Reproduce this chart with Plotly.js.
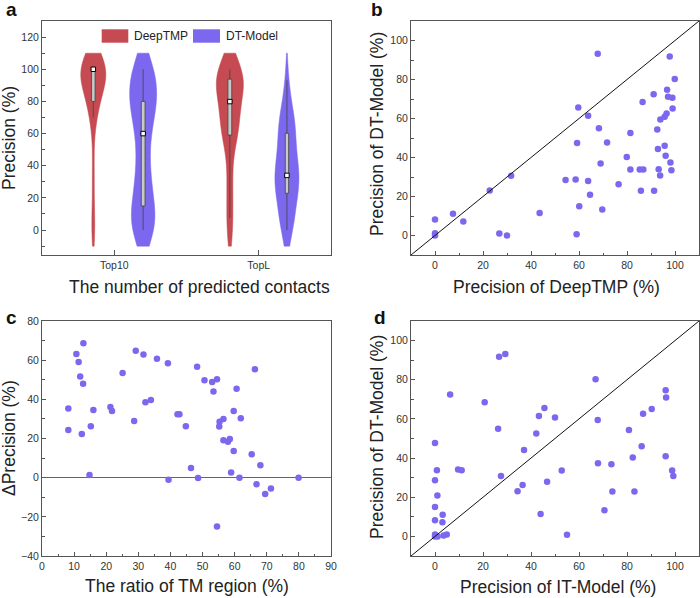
<!DOCTYPE html>
<html>
<head>
<meta charset="utf-8">
<script src="https://cdn.plot.ly/plotly-3.0.1.min.js"></script>
<style>html,body{margin:0;padding:0;background:#fff;}#chart{width:700px;height:598px;}</style>
</head>
<body>
<div id="chart"></div>
<script>
// ---- Panel a: violin data ----
var categories = ["Top10", "TopL"];
var deepTMPTop10 = [100,100,100,100,100,100,100,100,100,100,100,100,100,100,100,100,100,100,100,100,100,100,100,100,100,100,100,
  90,90,90,90,90,90,90, 80,80,80,80,80,80, 70,70,70,70, 45,35,25,10,0,0,0];
var dtModelTop10 = [0,0,0,0,0,0,0,0, 10,10,10,10,10, 20,20,20,20, 30,30,30, 40,40,40, 50,50, 60,60,60,
  70,70,70,70, 80,80,80,80,80,80,80, 90,90,90,90,90, 100,100,100,100,100,100,100];

// ---- Panel b: DeepTMP vs DT-Model (TopL precision) ----
var deepTMPTopL = [0,0,0,7.5,11.8,22.8,31.7,26.8,30,43.6,54.4,58.6,59.2,59.7,60.1,59,63.8,63.8,64.6,67.8,68.3,69,69.7,71.7,76.5,
  79.9,81.4,81.4,85.3,86.8,85.8,86.5,91.1,91.3,92.6,92.9,93.2,93.8,93.9,95.7,96.5,95.7,96.1,96.7,97.1,97.8,98.1,98.5,98.9,99,99.9];
var dtModelTopL = [8.2,1.2,0,11.1,7.2,23.1,30.6,1.0,0,11.5,28.4,28.7,47.4,65.6,15.0,0.7,61.4,27.9,20.9,93.2,55.0,36.9,13.3,47.7,26.3,
  40.3,52.6,33.8,33.8,33.8,22.9,68.4,72.5,22.9,54.4,44.3,34.0,30.8,59.5,60.9,62.6,46,40.9,74.7,71.1,91.8,37.4,33.5,70.6,65.1,80.3];

// ---- Panel c: TM ratio vs delta precision ----
var tmRatio = [8.2,8.2,10.7,11.4,11.9,12.9,12.8,12.4,14.8,15.2,16.0,21.3,21.8,25.1,28.7,29.2,31.6,32.2,33.9,35.8,39.2,39.4,42.2,42.8,44.8,46.4,
  48.3,48.6,50.6,53.0,53.4,54.5,54.5,55.2,55.3,56.5,56.5,57.9,58.5,58.9,59.7,59.7,60.6,61.5,61.9,65.3,66.3,66.8,68.0,69.5,71.3,79.9];
var deltaPrecision = [35.3,24.4,63.2,59.1,51.6,68.7,47.9,22.3,1.3,26.2,34.6,36.1,34.1,53.4,29.0,64.8,62.9,38.5,39.7,60.7,58.4,-1.1,32.4,32.4,26.3,4.9,
  56.6,-0.2,49.8,48.9,44.0,50.3,-24.9,26.1,28.5,30.0,19.1,18.4,19.8,2.7,34.1,13.6,45.4,0,30.3,12.0,55.3,-3.3,6.3,-8.3,-5.5,0];

// ---- Panel d: IT-Model vs DT-Model ----
var itModel = [0,0,0,0,0,0,0.8,1,1.1,3.2,3.1,3.6,4.9,6.3,9.6,11.1,20.7,26.3,26.7,29.3,27.5,34.4,36.5,37.1,42.2,43.3,44.0,45.6,46.7,50.0,52.8,55.0,
  66.9,67.8,67.9,70.6,73.5,73.9,80.8,82.4,83.1,86.1,86.7,90.3,96.1,96.3,96.1,98.8,99.3];
var dtModelD = [47.7,28.7,15,8.2,1,0,33.8,20.9,0,11.1,7.2,0.5,1.0,72.5,34.2,33.8,68.5,55.0,91.8,93.2,30.8,23.1,26.3,44.1,52.6,61.5,11.5,65.6,27.9,60.7,33.7,0.9,
  80.3,59.5,37.4,13.3,36.9,22.9,54.4,40.3,22.9,46.0,62.7,65.1,74.7,70.9,41.0,33.7,30.9];

var RED = "#c64a51", BLUE = "#7b68ee";
var FONT = "Liberation Sans, Arial, sans-serif";

function median(a) {
  var s = a.slice().sort(function(p, q) { return p - q; });
  var n = s.length;
  return n % 2 ? s[(n - 1) / 2] : (s[n / 2 - 1] + s[n / 2]) / 2;
}

function violin(data, pos, w, color, bw) {
  var t = {
    type: "violin", y: data, x0: pos, width: w, name: "",
    xaxis: "x", yaxis: "y",
    spanmode: "manual", span: [-10, 110],
    scalemode: "width", side: "both",
    fillcolor: color, line: { color: color, width: 0.5 },
    points: "outliers", marker: { opacity: 0, size: 1 },
    quartilemethod: "inclusive",
    box: { visible: true, width: 0.14, fillcolor: "#c8c8c8", line: { color: "#444", width: 0.8 } },
    meanline: { visible: false },
    showlegend: false, hoverinfo: "skip"
  };
  if (bw) t.bandwidth = bw;
  return t;
}

var vpos = [[0 - 0.145, 0 + 0.20], [1 - 0.20, 1 + 0.195]];
var vwid = [[0.173, 0.187], [0.187, 0.166]];
var vbw = [[12, 13], [null, null]];
var violinSets = [[deepTMPTop10, dtModelTop10], [deepTMPTopL, dtModelTopL]];
var traces = [];
var medX = [], medY = [];
for (var c = 0; c < 2; c++) {
  for (var s = 0; s < 2; s++) {
    traces.push(violin(violinSets[c][s], vpos[c][s], vwid[c][s], s === 0 ? RED : BLUE, vbw[c][s]));
    medX.push(vpos[c][s]);
    medY.push(median(violinSets[c][s]));
  }
}
traces.push({
  type: "scatter", mode: "markers", x: medX, y: medY, xaxis: "x", yaxis: "y",
  marker: { symbol: "square", size: 4.5, color: "#fff", line: { color: "#000", width: 1 } },
  showlegend: false, hoverinfo: "skip"
});

var dotMarker = { color: BLUE, size: 6.5 };
traces.push({ type: "scatter", mode: "markers", x: deepTMPTopL, y: dtModelTopL, xaxis: "x2", yaxis: "y2", marker: dotMarker, showlegend: false });
traces.push({ type: "scatter", mode: "markers", x: tmRatio, y: deltaPrecision, xaxis: "x3", yaxis: "y3", marker: dotMarker, showlegend: false });
traces.push({ type: "scatter", mode: "markers", x: itModel, y: dtModelD, xaxis: "x4", yaxis: "y4", marker: dotMarker, showlegend: false });

function px(x) { return x / 700; }
function py(y) { return 1 - y / 598; }

function axis(extra) {
  var a = {
    showline: true, mirror: true, linecolor: "#555", linewidth: 1,
    ticks: "inside", ticklen: 4, tickwidth: 1, tickcolor: "#555",
    showgrid: false, zeroline: false,
    tickfont: { family: FONT, size: 10.5, color: "#333" },
    fixedrange: true
  };
  for (var k in extra) a[k] = extra[k];
  return a;
}
var minor10 = { ticks: "inside", ticklen: 2.5, tickcolor: "#555", dtick: 10, showgrid: false };

var domA = [px(42), px(331)], domB = [px(411), px(699)];
var domTop = [py(255), py(21)], domBot = [py(556), py(321)];

var layout = {
  width: 700, height: 598,
  margin: { l: 0, r: 0, t: 0, b: 0 },
  paper_bgcolor: "#fff", plot_bgcolor: "#fff",
  font: { family: FONT, color: "#222" },
  showlegend: false,
  violinmode: "overlay",
  xaxis: axis({ domain: domA, anchor: "y", range: [-0.5, 1.5], tickvals: [0, 1], ticktext: categories, ticklen: 5 }),
  yaxis: axis({ domain: domTop, anchor: "x", range: [-15.5, 130], tickvals: [0, 20, 40, 60, 80, 100, 120],
    minor: { ticks: "inside", ticklen: 2.5, tickcolor: "#555", tickvals: [-10, 10, 30, 50, 70, 90, 110], showgrid: false } }),
  xaxis2: axis({ domain: domB, anchor: "y2", range: [-10, 110], tick0: 0, dtick: 20, minor: minor10 }),
  yaxis2: axis({ domain: domTop, anchor: "x2", range: [-10, 110], tick0: 0, dtick: 20, minor: minor10 }),
  xaxis3: axis({ domain: domA, anchor: "y3", range: [0, 90], tick0: 0, dtick: 10,
    minor: { ticks: "inside", ticklen: 2.5, tickcolor: "#555", dtick: 5, showgrid: false } }),
  yaxis3: axis({ domain: domBot, anchor: "x3", range: [-40, 80], tick0: 0, dtick: 20, minor: minor10,
    zeroline: true, zerolinecolor: "#666", zerolinewidth: 1 }),
  xaxis4: axis({ domain: domB, anchor: "y4", range: [-10, 110], tick0: 0, dtick: 20, minor: minor10 }),
  yaxis4: axis({ domain: domBot, anchor: "x4", range: [-10, 110], tick0: 0, dtick: 20, minor: minor10 }),
  shapes: [
    { type: "line", xref: "x2", yref: "y2", x0: -10, y0: -10, x1: 110, y1: 110, line: { color: "#111", width: 1 } },
    { type: "line", xref: "x4", yref: "y4", x0: -10, y0: -10, x1: 110, y1: 110, line: { color: "#111", width: 1 } },
    { type: "rect", xref: "paper", yref: "paper", x0: px(101.7), x1: px(128.3), y0: py(42.7), y1: py(29.3), fillcolor: RED, line: { width: 0 } },
    { type: "rect", xref: "paper", yref: "paper", x0: px(193), x1: px(220), y0: py(42.7), y1: py(29.3), fillcolor: BLUE, line: { width: 0 } }
  ],
  annotations: []
};

function ann(text, x, y, opts) {
  var a = { text: text, xref: "paper", yref: "paper", x: px(x), y: py(y), showarrow: false,
    xanchor: "center", yanchor: "middle", font: { family: FONT, size: 17.5, color: "#222" } };
  for (var k in opts) a[k] = opts[k];
  layout.annotations.push(a);
}
// legend text
ann("DeepTMP", 132, 36, { xanchor: "left", font: { family: FONT, size: 12, color: "#222" } });
ann("DT-Model", 224, 36, { xanchor: "left", font: { family: FONT, size: 12, color: "#222" } });
// panel letters
var bold = { family: FONT, size: 19, color: "#111", weight: "bold" };
ann("<b>a</b>", 4, 10, { xanchor: "left", font: bold });
ann("<b>b</b>", 369, 10, { xanchor: "left", font: bold });
ann("<b>c</b>", 4, 317, { xanchor: "left", font: bold });
ann("<b>d</b>", 372, 317, { xanchor: "left", font: bold });
// axis titles
ann("The number of predicted contacts", 199, 287, {});
ann("Precision (%)", 9, 138, { textangle: -90 });
ann("Precision of DeepTMP (%)", 556, 287, {});
ann("Precision of DT-Model (%)", 377, 134, { textangle: -90 });
ann("The ratio of TM region (%)", 187, 586, {});
ann("ΔPrecision (%)", 9, 438, { textangle: -90 });
ann("Precision of IT-Model (%)", 558, 587, {});
ann("Precision of DT-Model (%)", 377, 437, { textangle: -90 });

Plotly.newPlot("chart", traces, layout, { displayModeBar: false, staticPlot: true });
</script>
</body>
</html>
